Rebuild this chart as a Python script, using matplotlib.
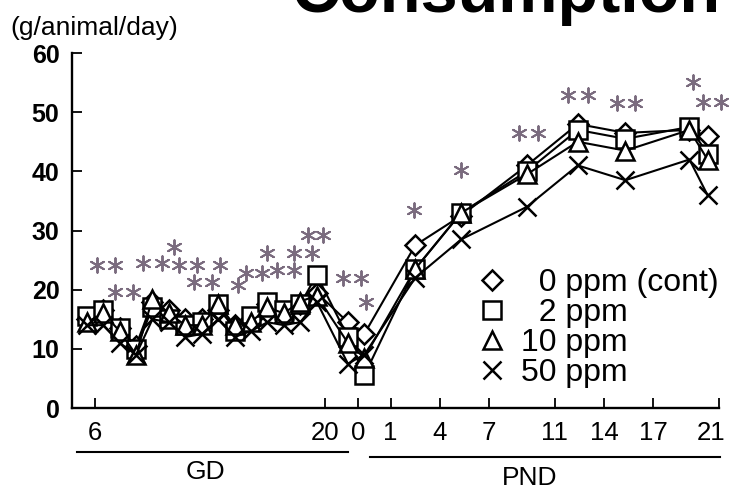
import matplotlib.pyplot as plt
from matplotlib.lines import Line2D
from matplotlib.transforms import ScaledTranslation

# shared x axis: GD day d sits at d, PND day p sits at 23 + p (PND 0 at 22)
gd_days = list(range(6, 21))
gd_x = [d - 0.5 for d in gd_days]
pnd_x = [21.4, 22.4, 25.5, 28.3, 32.3, 35.4, 38.3, 42.2, 43.3]
x_all = gd_x + pnd_x

tick_pos = [6, 20, 22, 24, 27, 30, 34, 37, 40, 44]
tick_labels = ["6", "20", "0", "1", "4", "7", "11", "14", "17", "21"]
y_ticks = [0, 10, 20, 30, 40, 50, 60]

ppm0 = [15, 16.5, 13.5, 10.5, 18, 16.5, 15, 15, 16.5, 14, 15, 17.5, 16, 17.5, 19.5,
        14.5, 12.5, 27.5, 32.5, 41, 48, 46.5, 47, 46]
ppm2 = [15.5, 16.5, 13.5, 10, 17, 15, 14, 14.5, 17.5, 13, 15.5, 18, 16.5, 17.5, 22.5,
        12, 5.5, 23.5, 33, 40, 47, 45.5, 47.5, 43]
ppm10 = [14.5, 16, 13, 9, 18.5, 16, 14, 14, 17.5, 14, 14.5, 17, 16, 18, 19,
         11, 8.5, 23.5, 33, 39.5, 45, 43.5, 47, 42]
ppm50 = [14, 14, 11, 9, 15, 14.5, 12, 12.5, 15, 12, 13, 14.5, 14, 14.5, 18,
         7.5, 9, 22, 28.5, 34, 41, 38.5, 42, 36]

labels = ["\u20070 ppm (cont)", "\u20072 ppm", "10 ppm", "50 ppm"]
markers = ["D", "s", "^", "x"]
marker_sizes = [10.5, 13, 13, 13]

# significance asterisks
star_x = [6.1, 7.2, 7.2, 8.3, 8.9, 10.1, 11.1, 12.2, 10.8, 12.0, 13.6, 13.1,
          14.7, 15.2, 16.2, 17.1, 16.5, 18.1, 19.2, 18.1, 19.0, 19.9, 21.1,
          22.2, 22.5, 25.4, 28.3, 31.8, 33.0, 34.8, 36.0, 37.8, 38.9, 42.4,
          43.0, 44.1]
star_y = [24.2, 24.2, 19.6, 19.6, 24.5, 24.5, 24.2, 24.2, 27.2, 21.3, 24.2,
          21.3, 20.8, 22.8, 22.8, 23.3, 26.2, 26.2, 26.2, 23.3, 29.2, 29.2,
          22.0, 22.0, 17.9, 33.4, 40.2, 46.5, 46.5, 52.9, 52.9, 51.5, 51.5,
          55.1, 51.7, 51.7]

plt.rcParams["font.family"] = ["Liberation Sans", "DejaVu Sans"]

fig = plt.figure(figsize=(7.29, 4.94), dpi=100)
ax = fig.add_axes([72 / 729, 1 - 408 / 494, (719 - 72) / 729, (408 - 53) / 494])

for vals, m, ms in zip([ppm0, ppm2, ppm10, ppm50], markers, marker_sizes):
    ax.plot(x_all, vals, color="black", lw=1.5, marker=m, ms=ms,
            mfc="white", mec="black", mew=1.8, zorder=3)

ax.scatter(star_x, star_y, marker=(6, 2, 0), s=110, color="#7a6b7e",
           linewidths=1.4, clip_on=False, zorder=4)

ax.set_xlim(4.6, 44.0)
ax.set_ylim(0, 60)
ax.set_xticks(tick_pos)
ax.set_xticklabels(tick_labels, fontsize=18.5)
ax.set_yticks(y_ticks)
ax.set_yticklabels([str(v) for v in y_ticks], fontsize=18, fontweight="bold")
ax.tick_params(axis="both", direction="in", length=7, width=1.3, colors="black")
ax.tick_params(axis="x", pad=9)
ax.tick_params(axis="y", pad=9)
for side in ["top", "right"]:
    ax.spines[side].set_visible(False)
for side in ["left", "bottom"]:
    ax.spines[side].set_linewidth(1.7)

# last label sits at the very edge, nudge it left a little
last = ax.get_xticklabels()[-1]
last.set_transform(last.get_transform() + ScaledTranslation(-6 / 72, 0, fig.dpi_scale_trans))

handles = [Line2D([], [], ls="none", marker=m, ms=ms, mfc="white",
                  mec="black", mew=1.8) for m, ms in zip(markers, marker_sizes)]
ax.legend(handles, labels, loc="upper left", bbox_to_anchor=(0.6, 0.44),
          frameon=False, fontsize=23, handlelength=1.0, handletextpad=0.4,
          labelspacing=0.0, borderpad=0)

# GD / PND group underlines and labels
fig.add_artist(Line2D([77 / 729, 348 / 729], [1 - 452 / 494, 1 - 452 / 494],
                      color="black", lw=1.5))
fig.add_artist(Line2D([370 / 729, 720 / 729], [1 - 457 / 494, 1 - 457 / 494],
                      color="black", lw=1.5))
fig.text(205 / 729, 1 - 472 / 494, "GD", fontsize=19, ha="center", va="center")
fig.text(530 / 729, 1 - 478 / 494, "PND", fontsize=19, ha="center", va="center")

fig.text(10 / 729, 1 - 28 / 494, "(g/animal/day)", fontsize=19,
         ha="left", va="center")
fig.text(720 / 729, 1 - 12 / 494, "Consumption", fontsize=48,
         fontweight="bold", ha="right", va="baseline")

fig.savefig("out.png", dpi=100)
